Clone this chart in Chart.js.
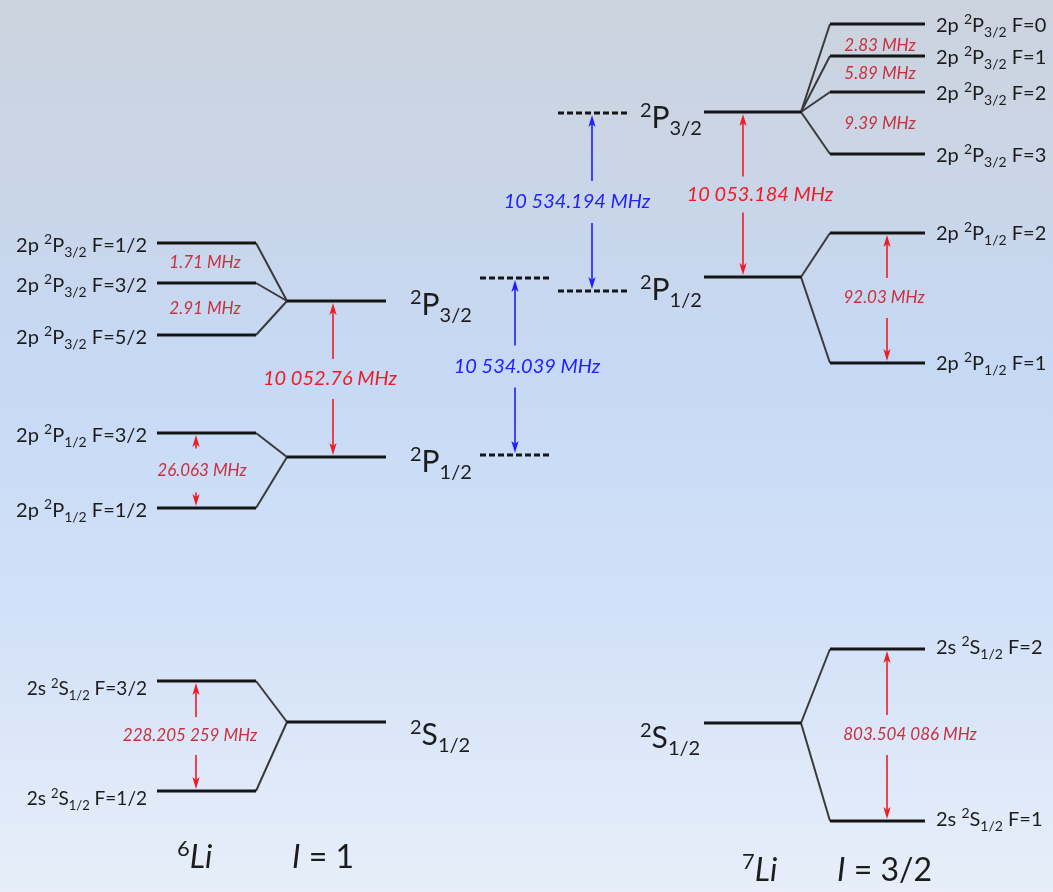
<!DOCTYPE html>
<html>
<head>
<meta charset="utf-8">
<title>Lithium 2s / 2p hyperfine structure</title>
<script src="https://cdn.jsdelivr.net/npm/chart.js@4/dist/chart.umd.min.js"></script>
<style>
  html, body { margin: 0; padding: 0; background: #d4e0f2; }
  canvas { display: block; }
</style>
</head>
<body>
<canvas id="levels" width="1053" height="892"></canvas>
<script>
// ---------------- data ----------------
// Schematic level heights in diagram units (0 = top of the plot, growing downward).
// Manifold order: 2S1/2, 2P1/2, 2P3/2.
const li6FineTerms = ['^{2}S_{1/2}', '^{2}P_{1/2}', '^{2}P_{3/2}'];
const li6FineY     = [722, 457, 301];
const li6HfsY      = [[681, 791], [433, 508], [243, 283, 335]];
const li6HfsF      = [['3/2', '1/2'], ['3/2', '1/2'], ['1/2', '3/2', '5/2']];
const li6HfsSplit  = [['228.205 259 MHz'], ['26.063 MHz'], ['1.71 MHz', '2.91 MHz']];

const li7FineTerms = ['^{2}S_{1/2}', '^{2}P_{1/2}', '^{2}P_{3/2}'];
const li7FineY     = [723, 277, 112];
const li7HfsY      = [[649, 821], [233, 363], [24, 56, 92, 154]];
const li7HfsF      = [['2', '1'], ['2', '1'], ['0', '1', '2', '3']];
const li7HfsSplit  = [['803.504 086 MHz'], ['92.03 MHz'], ['2.83 MHz', '5.89 MHz', '9.39 MHz']];

const hfsTermPrefix = ['2s ^{2}S_{1/2}', '2p ^{2}P_{1/2}', '2p ^{2}P_{3/2}'];

// Fine-structure splittings (2P1/2 - 2P3/2) for 6Li and 7Li
const fineSplit = ['10 052.76 MHz', '10 053.184 MHz'];

// Isotope shifts between the 6Li and 7Li 2P levels (dashed reference levels)
const isoShiftY = [[278, 455], [113, 291]];
const isoShift  = ['10 534.039 MHz', '10 534.194 MHz'];

const isotopes = ['^{6}*{Li}', '^{7}*{Li}'];
const spins    = ['*{I} = 1', '*{I} = 3/2'];

// ---------------- layout ----------------
const X = {
  li6HfsL: 157, li6HfsR: 256, li6FineL: 287, li6FineR: 386,
  li7FineL: 704, li7FineR: 801, li7HfsL: 830, li7HfsR: 925,
  li6HfsText: 147, li7HfsText: 936,
  li6FineText: 410, li7FineText: 640,
  li6SplitArrow: 196, li7SplitArrow: 887,
  li6FineArrow: 333, li7FineArrow: 743
};
const isoDashX   = [[480, 549], [558, 627]];
const isoArrowX  = [515, 592];
const isoLabelX  = [527, 577];
const fineLabelX = [330, 760];
const li6SplitLabelX = [190, 202, 205];
const li7SplitLabelX = [910, 884, 880];
const li6HfsTextDy = [14, 9, 9];
const li7HfsTextDy = [5, 7, 8];
const li6HfsTextSize = [19, 20, 20];
const li7HfsTextSize = [20, 20, 20];
const li6FineTextDy = [23, 15, 14];
const li7FineTextDy = [25, 23, 16];

const COL = {
  level: '#151515', link: '#3a3a3a', red: '#ee1c25', redDark: '#c8303c', blue: '#1f1fff', text: '#1c1c1c'
};
const FONT = 'Lato, "Open Sans", "DejaVu Sans", sans-serif';

// ---------------- datasets ----------------
const datasets = [];
function seg(x1, y1, x2, y2, color, width, dash) {
  datasets.push({
    data: [{ x: x1, y: y1 }, { x: x2, y: y2 }],
    showLine: true, pointRadius: 0, pointHoverRadius: 0,
    borderColor: color, borderWidth: width, borderDash: dash || [],
    fill: false, tension: 0
  });
}

li6FineY.forEach((fy, i) => {
  seg(X.li6FineL, fy, X.li6FineR, fy, COL.level, 3);
  li6HfsY[i].forEach(hy => {
    seg(X.li6HfsL, hy, X.li6HfsR, hy, COL.level, 3);
    seg(X.li6HfsR, hy, X.li6FineL, fy, COL.link, 2);
  });
});
li7FineY.forEach((fy, i) => {
  seg(X.li7FineL, fy, X.li7FineR, fy, COL.level, 3);
  li7HfsY[i].forEach(hy => {
    seg(X.li7HfsL, hy, X.li7HfsR, hy, COL.level, 3);
    seg(X.li7FineR, fy, X.li7HfsL, hy, COL.link, 2);
  });
});
isoShiftY.forEach((pair, k) => {
  pair.forEach(y => seg(isoDashX[k][0], y, isoDashX[k][1], y, COL.level, 3, [6, 3]));
});

// ---------------- arrows & labels ----------------
const arrows = [];
function splitArrow(x, yTop, yBot, label, lx, color, textColor, font, gapHalf) {
  const mid = (yTop + yBot) / 2;
  arrows.push({ x, yTop, yBot, label, lx, ly: mid, color, textColor, font, gap: [mid - gapHalf, mid + gapHalf] });
}
// 6Li: 2S1/2 and 2P1/2 hyperfine splittings
[0, 1].forEach(i => {
  const ys = li6HfsY[i];
  splitArrow(X.li6SplitArrow, ys[0], ys[ys.length - 1], li6HfsSplit[i][0], li6SplitLabelX[i],
             COL.red, COL.redDark, 'italic 17px ' + FONT, i === 0 ? 19 : 22);
});
// 7Li: 2S1/2 and 2P1/2 hyperfine splittings
[0, 1].forEach(i => {
  const ys = li7HfsY[i];
  splitArrow(X.li7SplitArrow, ys[0], ys[ys.length - 1], li7HfsSplit[i][0], li7SplitLabelX[i],
             COL.red, COL.redDark, 'italic 17px ' + FONT, 20);
});
// fine-structure arrows
splitArrow(X.li6FineArrow, li6FineY[2], li6FineY[1], fineSplit[0], fineLabelX[0], COL.red, COL.red, 'italic 20px ' + FONT, 20);
splitArrow(X.li7FineArrow, li7FineY[2], li7FineY[1], fineSplit[1], fineLabelX[1], COL.red, COL.red, 'italic 20px ' + FONT, 18);
// isotope-shift arrows
isoShiftY.forEach((pair, k) => {
  splitArrow(isoArrowX[k], pair[0], pair[1], isoShift[k], isoLabelX[k], COL.blue, COL.blue, 'italic 20px ' + FONT, 21);
});

// rich text: ^{sup}, _{sub}, *{italic}
function parseRich(str) {
  const parts = [];
  const re = /([\^_*])\{([^}]*)\}/g;
  let last = 0, m;
  while ((m = re.exec(str))) {
    if (m.index > last) parts.push({ t: str.slice(last, m.index), k: 'n' });
    parts.push({ t: m[2], k: m[1] });
    last = re.lastIndex;
  }
  if (last < str.length) parts.push({ t: str.slice(last), k: 'n' });
  return parts;
}
function drawRich(ctx, str, x, y, size, align, color) {
  const parts = parseRich(str);
  const fontFor = p => {
    const it = p.k === '*' ? 'italic ' : '';
    const s = (p.k === '^' || p.k === '_') ? Math.round(size * 0.68) : size;
    return it + s + 'px ' + FONT;
  };
  let total = 0;
  parts.forEach(p => { ctx.font = fontFor(p); p.w = ctx.measureText(p.t).width; total += p.w; });
  let cx = align === 'right' ? x - total : align === 'center' ? x - total / 2 : x;
  ctx.fillStyle = color;
  ctx.textBaseline = 'alphabetic';
  ctx.textAlign = 'left';
  parts.forEach(p => {
    ctx.font = fontFor(p);
    let dy = 0;
    if (p.k === '^') dy = -size * 0.38;
    if (p.k === '_') dy = size * 0.24;
    ctx.fillText(p.t, cx, y + dy);
    cx += p.w;
  });
}

function arrowHead(ctx, x, tipY, dir, color) {
  const len = 12, half = 3.6;
  ctx.fillStyle = color;
  ctx.beginPath();
  ctx.moveTo(x, tipY);
  ctx.lineTo(x - half, tipY + dir * len);
  ctx.lineTo(x, tipY + dir * (len - 3));
  ctx.lineTo(x + half, tipY + dir * len);
  ctx.closePath();
  ctx.fill();
}

const backgroundPlugin = {
  id: 'slideBackground',
  beforeDraw(chart) {
    const { ctx, width, height } = chart;
    const g = ctx.createLinearGradient(0, 0, 0, height);
    g.addColorStop(0, '#ccd3de');
    g.addColorStop(0.18, '#cad5e6');
    g.addColorStop(0.42, '#c6d9f5');
    g.addColorStop(0.68, '#d2e1f8');
    g.addColorStop(1, '#e7eef9');
    ctx.save();
    ctx.fillStyle = g;
    ctx.fillRect(0, 0, width, height);
    ctx.restore();
  }
};

const annotationPlugin = {
  id: 'levelAnnotations',
  afterDatasetsDraw(chart) {
    const { ctx } = chart;
    const sx = v => chart.scales.x.getPixelForValue(v);
    const sy = v => chart.scales.y.getPixelForValue(v);
    ctx.save();

    // arrows with centred labels
    arrows.forEach(a => {
      const x = sx(a.x), top = sy(a.yTop) + 2, bot = sy(a.yBot) - 2;
      const g1 = sy(a.gap[0]), g2 = sy(a.gap[1]);
      ctx.strokeStyle = a.color;
      ctx.lineWidth = 1.6;
      ctx.beginPath();
      if (g1 - top > 10) { ctx.moveTo(x, top + 8); ctx.lineTo(x, g1); }
      if (bot - g2 > 10) { ctx.moveTo(x, g2); ctx.lineTo(x, bot - 8); }
      ctx.stroke();
      arrowHead(ctx, x, top, 1, a.color);
      arrowHead(ctx, x, bot, -1, a.color);
      ctx.font = a.font;
      ctx.fillStyle = a.textColor;
      ctx.textAlign = 'center';
      ctx.textBaseline = 'middle';
      ctx.fillText(a.label, sx(a.lx), sy(a.ly));
    });

    // 2P3/2 hyperfine spacings (no arrows)
    ctx.font = 'italic 17px ' + FONT;
    ctx.fillStyle = COL.redDark;
    ctx.textAlign = 'center';
    ctx.textBaseline = 'middle';
    const p6 = li6HfsY[2];
    li6HfsSplit[2].forEach((t, j) => {
      ctx.fillText(t, sx(li6SplitLabelX[2]), sy((p6[j] + p6[j + 1]) / 2));
    });
    const p7 = li7HfsY[2];
    const li7Dy = [6, 0, 1];
    li7HfsSplit[2].forEach((t, j) => {
      ctx.fillText(t, sx(li7SplitLabelX[2]), sy((p7[j] + p7[j + 1]) / 2 + li7Dy[j]));
    });

    // hyperfine level names
    li6HfsY.forEach((ys, i) => ys.forEach((y, j) => {
      drawRich(ctx, hfsTermPrefix[i] + ' F=' + li6HfsF[i][j], sx(X.li6HfsText), sy(y + li6HfsTextDy[i]), li6HfsTextSize[i], 'right', COL.text);
    }));
    li7HfsY.forEach((ys, i) => ys.forEach((y, j) => {
      drawRich(ctx, hfsTermPrefix[i] + ' F=' + li7HfsF[i][j], sx(X.li7HfsText), sy(y + li7HfsTextDy[i]), li7HfsTextSize[i], 'left', COL.text);
    }));

    // fine-structure term names
    li6FineY.forEach((y, i) => drawRich(ctx, li6FineTerms[i], sx(X.li6FineText), sy(y + li6FineTextDy[i]), 30, 'left', COL.text));
    li7FineY.forEach((y, i) => drawRich(ctx, li7FineTerms[i], sx(X.li7FineText), sy(y + li7FineTextDy[i]), 30, 'left', COL.text));

    // isotope and nuclear spin captions
    drawRich(ctx, isotopes[0], sx(177), sy(868), 32, 'left', COL.text);
    drawRich(ctx, spins[0], sx(292), sy(868), 32, 'left', COL.text);
    drawRich(ctx, isotopes[1], sx(742), sy(881), 32, 'left', COL.text);
    drawRich(ctx, spins[1], sx(837), sy(881), 32, 'left', COL.text);

    ctx.restore();
  }
};

new Chart(document.getElementById('levels'), {
  type: 'scatter',
  data: { datasets },
  options: {
    responsive: false,
    animation: false,
    events: [],
    layout: { padding: 0 },
    plugins: { legend: { display: false }, tooltip: { enabled: false } },
    scales: {
      x: { type: 'linear', min: 0, max: 1053, display: false },
      y: { type: 'linear', min: 0, max: 892, reverse: true, display: false }
    }
  },
  plugins: [backgroundPlugin, annotationPlugin]
});
</script>
</body>
</html>
